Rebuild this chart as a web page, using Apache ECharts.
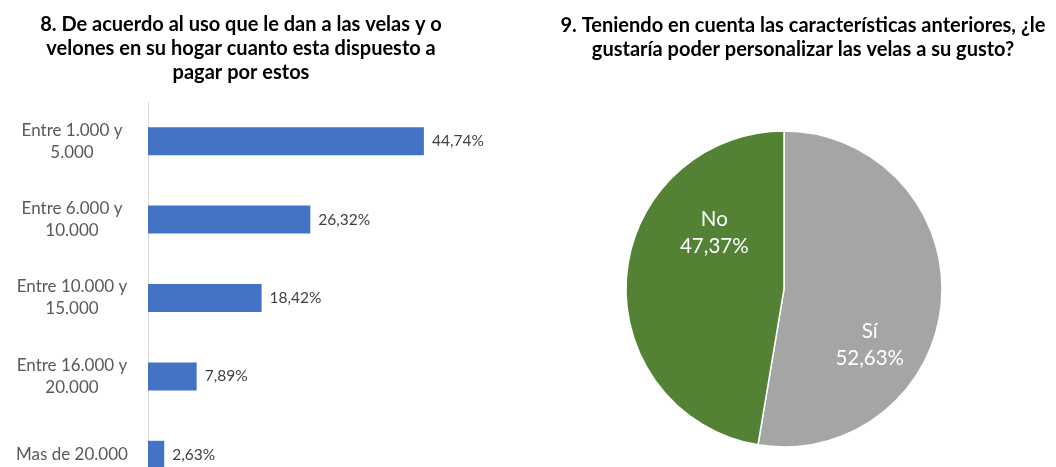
<!DOCTYPE html>
<html>
<head>
<meta charset="utf-8">
<script src="https://cdn.jsdelivr.net/npm/echarts@6/dist/echarts.min.js"></script>
<style>
  html, body { margin: 0; padding: 0; background: #fff; overflow: hidden; }
  /* taller than the window: the last bar is cut off at the bottom edge */
  #chart { width: 1056px; height: 494px; }
</style>
</head>
<body>
<div id="chart"></div>
<script>
  // bar chart: question 8
  const priceRanges = ['Entre 1.000 y\n5.000', 'Entre 6.000 y\n10.000', 'Entre 10.000 y\n15.000', 'Entre 16.000 y\n20.000', 'Mas de 20.000']
  const priceShares = [44.74, 26.32, 18.42, 7.89, 2.63]

  // pie chart: question 9
  const answerNames = ['Sí', 'No']
  const answerShares = [52.63, 47.37]
  const answerColors = ['#a5a5a5', '#548235']

  const fmt = v => v.toFixed(2).replace('.', ',') + '%'

  const chart = echarts.init(document.getElementById('chart'))
  const titleStyle = { fontFamily: 'Lato', fontWeight: 'bold', fontSize: 20, lineHeight: 24, color: '#000' }
  const options = {
    backgroundColor: '#fff',
    animation: false,
    title: [
      {
        text: '8. De acuerdo al uso que le dan a las velas y o\nvelones en su hogar cuanto esta dispuesto a\npagar por estos',
        left: 236,
        top: 8,
        textAlign: 'center',
        textStyle: titleStyle
      },
      {
        text: '9. Teniendo en cuenta las características anteriores, ¿le\ngustaría poder personalizar las velas a su gusto?',
        left: 798,
        top: 9,
        textAlign: 'center',
        textStyle: titleStyle
      }
    ],
    grid: {
      left: 148,
      top: 102,
      width: 370,
      bottom: 0
    },
    xAxis: {
      type: 'value',
      min: 0,
      max: 60,
      show: false
    },
    yAxis: {
      type: 'category',
      inverse: true,
      data: priceRanges,
      axisLine: { show: true, lineStyle: { color: '#d9d9d9', width: 1 } },
      axisTick: { show: false },
      axisLabel: {
        margin: 76,
        align: 'center',
        fontFamily: 'Lato',
        fontSize: 17,
        lineHeight: 22,
        color: '#595959'
      }
    },
    series: [
      {
        type: 'bar',
        data: priceShares,
        barWidth: 28,
        itemStyle: { color: '#4472c4' },
        label: {
          show: true,
          position: 'right',
          distance: 8,
          formatter: p => fmt(p.value),
          fontFamily: 'Lato',
          fontSize: 15.5,
          color: '#404040'
        }
      },
      {
        type: 'pie',
        center: [784, 289],
        radius: 158,
        startAngle: 90,
        clockwise: true,
        data: answerNames.map((n, i) => ({ name: n, value: answerShares[i], itemStyle: { color: answerColors[i] } })),
        itemStyle: { borderColor: '#fff', borderWidth: 1.5 },
        label: {
          show: true,
          position: 'inside',
          formatter: p => p.name + '\n' + fmt(p.value),
          fontFamily: 'Lato',
          fontSize: 20.5,
          lineHeight: 27,
          color: '#fff'
        },
        labelLayout: p => p.dataIndex === 0 ? { dx: 4, dy: 49 } : { dx: 12, dy: -49 },
        emphasis: { disabled: true }
      }
    ]
  }
  chart.setOption(options)
</script>
</body>
</html>
